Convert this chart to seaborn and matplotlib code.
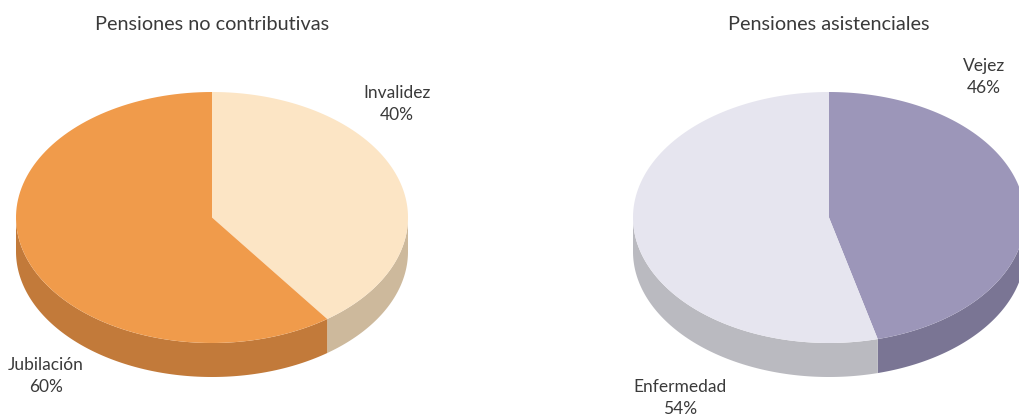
import matplotlib.pyplot as plt
import seaborn as sns
import numpy as np
from matplotlib.patches import Polygon

# datos
titles = ["Pensiones no contributivas", "Pensiones asistenciales"]
labels_left = ["Invalidez", "Jubilación"]
values_left = [40, 60]
labels_right = ["Vejez", "Enfermedad"]
values_right = [46, 54]

top_left = ["#FCE5C5", "#F09B4B"]
side_left = ["#CDB99C", "#C27A3A"]
top_right = ["#9C96B9", "#E6E5EF"]
side_right = ["#7A7594", "#BABAC0"]

sns.set_theme(style="white")
plt.rcParams['font.family'] = ['Lato', 'DejaVu Sans']

fig = plt.figure(figsize=(10.2, 4.18), dpi=100)
ax = fig.add_axes([0, 0, 1, 1])
ax.set_xlim(0, 1020)
ax.set_ylim(418, 0)
ax.axis("off")

RX, RY, DEPTH = 196, 125.5, 34


def arc(cx, cy, a1, a2, dy=0, n=120):
    t = np.radians(np.linspace(a1, a2, n))
    return np.column_stack([cx + RX * np.cos(t), cy - RY * np.sin(t) + dy])


def pie3d(cx, cy, values, tops, sides):
    # empieza arriba y gira en sentido horario
    bounds = 90 - np.concatenate([[0], np.cumsum(values)]) * 3.6
    # caras laterales, solo la mitad de delante (-180..0)
    for i in range(len(values)):
        lo_v, hi_v = max(bounds[i + 1], -180), min(bounds[i], 0)
        if hi_v > lo_v:
            up = arc(cx, cy, lo_v, hi_v)
            down = arc(cx, cy, hi_v, lo_v, dy=DEPTH)
            ax.add_patch(Polygon(np.vstack([up, down]), closed=True,
                                 facecolor=sides[i], edgecolor="none"))
    # caras superiores
    for i in range(len(values)):
        pts = np.vstack([[cx, cy], arc(cx, cy, bounds[i + 1], bounds[i])])
        ax.add_patch(Polygon(pts, closed=True, facecolor=tops[i],
                             edgecolor="none"))


pie3d(212, 217.5, values_left, top_left, side_left)
pie3d(829, 217.5, values_right, top_right, side_right)

txt = dict(color="#3a3a3a", fontsize=12.5, ha="center", va="center",
           linespacing=1.45)
ax.text(212, 24, titles[0], **dict(txt, fontsize=14.3))
ax.text(829, 24, titles[1], **dict(txt, fontsize=14.3))
ax.text(397, 104, f"{labels_left[0]}\n{values_left[0]}%", **txt)
ax.text(46, 376, f"{labels_left[1]}\n{values_left[1]}%", **txt)
ax.text(984, 77, f"{labels_right[0]}\n{values_right[0]}%", **txt)
ax.text(680, 398, f"{labels_right[1]}\n{values_right[1]}%", **txt)

fig.savefig("out.png", dpi=100)
